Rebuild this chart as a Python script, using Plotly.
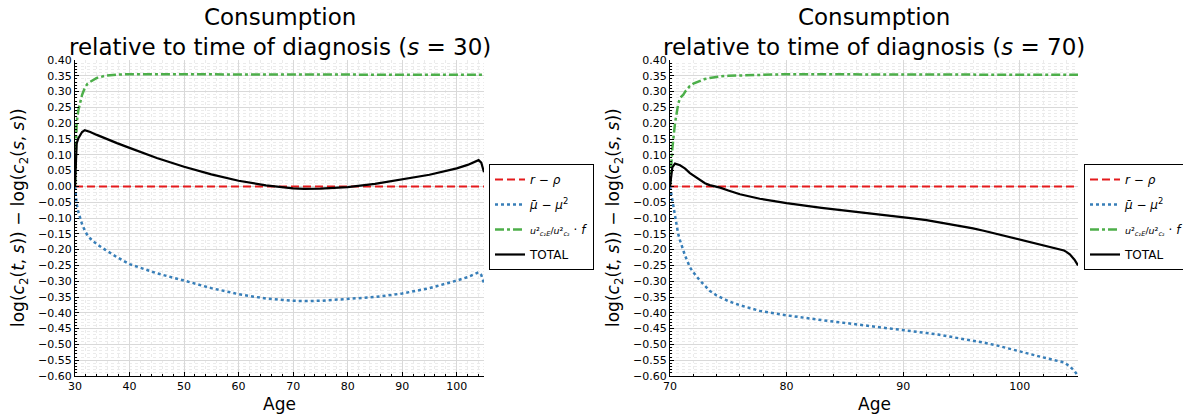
import plotly.graph_objects as go

# ---------------- data ----------------
# Left panel: s = 30
age_l = [30, 30.3, 30.6, 30.9, 31.3, 31.8, 32.3, 32.8, 34, 35.5, 37.7, 40, 45, 50, 55, 60, 65, 70, 72, 75,
         80, 85, 90, 95, 100, 102, 104, 104.5, 105]
r_rho_l = [0.0] * len(age_l)
mu_l = [0.0, -0.055, -0.08, -0.097, -0.12, -0.14, -0.155, -0.165, -0.183, -0.2, -0.224, -0.246, -0.275,
        -0.298, -0.322, -0.341, -0.355, -0.362, -0.363, -0.362, -0.357, -0.35, -0.339, -0.322, -0.298, -0.287,
        -0.272, -0.28, -0.307]
f_l = [0.0, 0.2, 0.24, 0.263, 0.29, 0.312, 0.325, 0.331, 0.343, 0.35, 0.354, 0.355, 0.355, 0.355, 0.355,
       0.355, 0.355, 0.355, 0.355, 0.355, 0.355, 0.355, 0.355, 0.355, 0.354, 0.354, 0.354, 0.354, 0.353]
tot_l = [0.0, 0.135, 0.152, 0.162, 0.172, 0.178, 0.176, 0.172, 0.163, 0.152, 0.137, 0.122, 0.09, 0.062,
         0.038, 0.018, 0.003, -0.006, -0.008, -0.007, -0.002, 0.008, 0.022, 0.037, 0.057, 0.068, 0.083, 0.075,
         0.045]

# Right panel: s = 70
age_r = [70, 70.2, 70.43, 70.7, 70.86, 71.14, 71.3, 71.71, 72, 72.57, 73, 73.4, 74, 74.3, 75, 75.7, 76, 77.7, 78,
         80, 83, 86, 88, 90, 91, 92, 93, 94, 95, 96, 97, 98, 99, 100, 101, 102, 103, 103.8, 104, 104.3, 104.7, 105]
r_rho_r = [0.0] * len(age_r)
mu_r = [0.0, -0.045, -0.1, -0.15, -0.171, -0.203, -0.22, -0.256, -0.272, -0.298, -0.313, -0.33, -0.345, -0.351,
        -0.363, -0.372, -0.376, -0.394, -0.396, -0.408, -0.423, -0.436, -0.445, -0.454, -0.459, -0.464, -0.469,
        -0.475, -0.481, -0.488, -0.495, -0.503, -0.513, -0.523, -0.532, -0.541, -0.55, -0.557, -0.562, -0.57,
        -0.584, -0.6]
f_r = [0.0, 0.12, 0.2, 0.26, 0.28, 0.29, 0.3, 0.318, 0.325, 0.334, 0.34, 0.343, 0.347, 0.348, 0.35, 0.351,
       0.352, 0.353, 0.353, 0.355, 0.355, 0.355, 0.355, 0.355, 0.355, 0.355, 0.355, 0.355, 0.355, 0.355, 0.354,
       0.354, 0.354, 0.354, 0.354, 0.354, 0.354, 0.354, 0.354, 0.354, 0.353, 0.353]
tot_r = [0.0, 0.06, 0.072, 0.069, 0.067, 0.06, 0.056, 0.042, 0.035, 0.02, 0.01, 0.004, 0.0, -0.004, -0.013,
         -0.021, -0.025, -0.039, -0.041, -0.053, -0.068, -0.08, -0.088, -0.097, -0.102, -0.107, -0.113, -0.119,
         -0.126, -0.133, -0.141, -0.15, -0.16, -0.17, -0.179, -0.188, -0.196, -0.203, -0.207, -0.215, -0.232,
         -0.25]

x_ticks_l = [30, 40, 50, 60, 70, 80, 90, 100]
x_ticks_r = [70, 80, 90, 100]
y_ticks = [round(-0.60 + 0.05 * i, 2) for i in range(21)]

titles = ["Consumption<br>relative to time of diagnosis (<i>s</i> = 30)",
          "Consumption<br>relative to time of diagnosis (<i>s</i> = 70)"]
names = ["<i>r</i> − <i>ρ</i>",
         "<i>μ̄</i> − <i>μ</i><sup>2</sup>",
         "<span style='font-size:9.5px'><i>u</i>²<sub><i>c</i>₂<i>E</i></sub>/<i>u</i>²<sub><i>c</i>₂</sub></span> · <i>f</i>",
         "TOTAL"]

# ---------------- figure ----------------
W, H = 1183, 418
FONT = "DejaVu Sans"
colors = ["#E41A1C", "#377EB8", "#4DAF4A", "#000000"]
dashes = ["8px,4px", "dot", "dashdot", "solid"]
widths = [2, 2.5, 2.5, 2.2]

fig = go.Figure()

panels = [
    (age_l, [r_rho_l, mu_l, f_l, tot_l], "x", "y", "legend", "L"),
    (age_r, [r_rho_r, mu_r, f_r, tot_r], "x2", "y2", "legend2", "R"),
]
for ages, series, xa, ya, lg, tag in panels:
    for k, (name, vals, c, d, w) in enumerate(zip(names, series, colors, dashes, widths)):
        fig.add_trace(go.Scatter(x=ages, y=vals, mode="lines", name=name, xaxis=xa, yaxis=ya, legend=lg,
                                 legendgroup=f"{tag}{k}",
                                 line=dict(color=c, dash=d, width=w)))

x_dom_l = [75 / W, 484 / W]
x_dom_r = [670 / W, 1078 / W]
y_dom = [1 - 376 / H, 1 - 60 / H]

common_axis = dict(
    showline=True, linecolor="black", linewidth=1, mirror=False,
    ticks="inside", ticklen=4, tickcolor="black",
    showgrid=True, gridcolor="#d9d9d9", gridwidth=1,
    zeroline=False, automargin=False,
    tickfont=dict(family=FONT, size=11, color="black"),
)
minor_x = dict(dtick=2, showgrid=True, gridcolor="#ebebeb", griddash="dot", ticks="inside", ticklen=2,
               tickcolor="black")
minor_y = dict(dtick=0.01, showgrid=True, gridcolor="#ebebeb", griddash="dot", ticks="inside", ticklen=2,
               tickcolor="black")

legend_common = dict(y=1 - 164 / H, xanchor="left", yanchor="top", bgcolor="white",
                     bordercolor="black", borderwidth=1, font=dict(family=FONT, size=12), itemwidth=30,
                     tracegroupgap=6)

fig.update_layout(
    width=W, height=H,
    margin=dict(l=0, r=0, t=0, b=0, autoexpand=False),
    paper_bgcolor="white", plot_bgcolor="white",
    font=dict(family=FONT, color="black"),
    xaxis=dict(domain=x_dom_l, range=[30, 105], tickvals=x_ticks_l, minor=minor_x, anchor="y", **common_axis),
    yaxis=dict(domain=y_dom, range=[-0.6, 0.4], tickvals=y_ticks, tickformat=".2f", minor=minor_y, anchor="x",
               **common_axis),
    xaxis2=dict(domain=x_dom_r, range=[70, 105], tickvals=x_ticks_r, minor=minor_x, anchor="y2", **common_axis),
    yaxis2=dict(domain=y_dom, range=[-0.6, 0.4], tickvals=y_ticks, tickformat=".2f", minor=minor_y, anchor="x2",
                **common_axis),
    legend=dict(x=489 / W, **legend_common),
    legend2=dict(x=1084 / W, **legend_common),
    showlegend=True,
)

ylab = "log(<i>c</i><sub>2</sub>(<i>t</i>, <i>s</i>)) − log(<i>c</i><sub>2</sub>(<i>s</i>, <i>s</i>))"
ann = []
for i, dom in enumerate([x_dom_l, x_dom_r]):
    cx = (dom[0] + dom[1]) / 2
    ann.append(dict(text=titles[i], x=cx, y=1 - 62 / H, xref="paper", yref="paper", xanchor="center",
                    yanchor="bottom", showarrow=False, font=dict(family=FONT, size=23)))
    ann.append(dict(text="Age", x=cx, y=1 - 416 / H, xref="paper", yref="paper", xanchor="center",
                    yanchor="bottom", showarrow=False, font=dict(family=FONT, size=17)))
    ann.append(dict(text=ylab, x=(dom[0] * W - 55) / W, y=(y_dom[0] + y_dom[1]) / 2, xref="paper",
                    yref="paper", xanchor="center", yanchor="middle", textangle=-90, showarrow=False,
                    font=dict(family=FONT, size=17)))
fig.update_layout(annotations=ann)

fig.write_html("out.html", config={"displayModeBar": False},
               post_script="document.body.style.margin='0';document.body.style.overflow='hidden';")
